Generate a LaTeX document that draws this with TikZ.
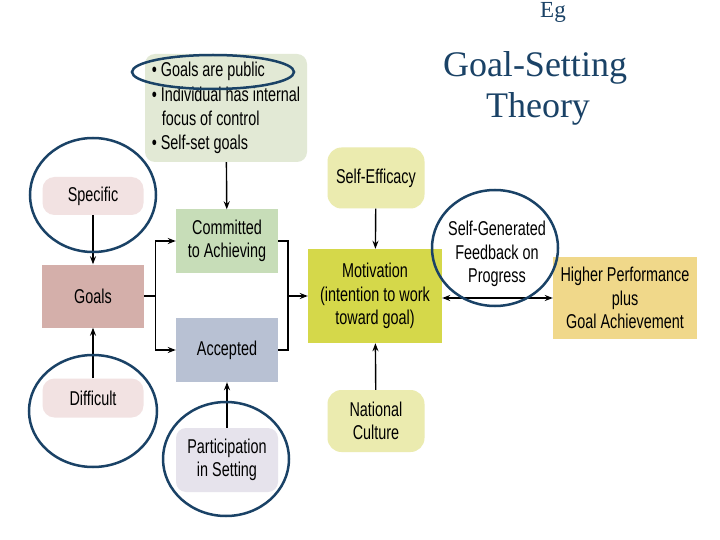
\documentclass[tikz,border=0pt]{standalone}
\usepackage{fontspec}
\setmainfont{Liberation Sans}[FakeStretch=0.72]
\newfontfamily\titlefont{Liberation Serif}
\usetikzlibrary{arrows.meta}

\definecolor{sage}{HTML}{E2E9D5}
\definecolor{blush}{HTML}{F2E2E2}
\definecolor{rose}{HTML}{D4AFAA}
\definecolor{mint}{HTML}{C7DDB8}
\definecolor{slate}{HTML}{B8C1D3}
\definecolor{lilac}{HTML}{E6E3EC}
\definecolor{cream}{HTML}{EBEBAF}
\definecolor{olive}{HTML}{D5D84A}
\definecolor{gold}{HTML}{F0D88A}
\definecolor{ink}{HTML}{1A4266}

\begin{document}
\begin{tikzpicture}[x=1pt,y=-1pt,
    box/.style={inner sep=0pt,align=center,font=\fontsize{20}{23.5}\selectfont},
    arr/.style={line width=1.4pt,-{Stealth[length=8pt,width=6pt]}},
    ring/.style={draw=ink,line width=2.5pt}]
    \useasboundingbox[fill=white] (0,0) rectangle (720,540);

    % title
    \node[anchor=base,text=ink,font=\titlefont\fontsize{23}{26}\selectfont] (eg) at (553,18) {Eg};
    \node[anchor=base,text=ink,font=\titlefont\fontsize{36}{41}\selectfont] (title) at (535,77) {Goal-Setting};
    \node[anchor=base,text=ink,font=\titlefont\fontsize{36}{41}\selectfont] (theory) at (538,118) {Theory};

    % boxes
    \node[box,fill=sage,rounded corners=10pt,minimum width=162pt,minimum height=108pt,
          align=left,font=\fontsize{20}{24.3}\selectfont] (cond) at (226,108)
          {\textbullet\ Goals are public\\\textbullet\ Individual has internal\\\hspace*{10pt}focus of control\\\textbullet\ Self-set goals};
    \node[box,fill=blush,rounded corners=12pt,minimum width=101pt,minimum height=38pt] (spec) at (93,196) {Specific};
    \node[box,fill=rose,minimum width=102pt,minimum height=63pt] (goals) at (93,296) {Goals};
    \node[box,fill=blush,rounded corners=12pt,minimum width=101pt,minimum height=39pt] (diff) at (93,398) {Difficult};
    \node[box,fill=mint,minimum width=102pt,minimum height=63pt] (comm) at (227,241) {Committed\\to Achieving};
    \node[box,fill=slate,minimum width=102pt,minimum height=64pt] (acc) at (227,350) {Accepted};
    \node[box,fill=lilac,rounded corners=10pt,minimum width=102pt,minimum height=64pt] (part) at (227,460) {Participation\\in Setting};
    \node[box,fill=cream,rounded corners=14pt,minimum width=97pt,minimum height=61pt] (selfe) at (376,178) {Self-Efficacy};
    \node[box,fill=olive,minimum width=134pt,minimum height=94pt] (mot) at (375,296) {Motivation\\(intention to work\\toward goal)};
    \node[box,fill=cream,rounded corners=14pt,minimum width=97pt,minimum height=62pt] (nat) at (376,421) {National\\Culture};
    \node[box,fill=gold,minimum width=144pt,minimum height=82pt] (high) at (625,298) {Higher Performance\\plus\\Goal Achievement};
    \node[box] (feed) at (497,254) {Self-Generated\\Feedback on\\Progress};

    % connectors
    \coordinate (bus) at (288,296);
    \draw[arr] (cond) -- (comm);
    \draw[arr] (spec) -- (goals);
    \draw[arr] (diff) -- (goals);
    \draw[arr] (part) -- (acc);
    \draw[arr] (goals.east) -- ++(11,0) |- (comm.west);
    \draw[arr] (goals.east) -- ++(11,0) |- (acc.west);
    \draw[line width=1.4pt] (comm.east) -| (bus);
    \draw[line width=1.4pt] (acc.east) -| (bus);
    \draw[arr] (bus) -- (bus -| mot.west);
    \draw[arr] (selfe) -- (mot);
    \draw[arr] (nat) -- (mot);
    \draw[arr,{Stealth[length=8pt,width=6pt]}-{Stealth[length=8pt,width=6pt]}] (mot.east |- high.west) -- (high.west);

    % highlights
    \draw[ring] (213,72) ellipse [x radius=81,y radius=17];
    \draw[ring] (93,195) ellipse [x radius=63,y radius=57];
    \draw[ring] (93,411) ellipse [x radius=64,y radius=56];
    \draw[ring] (226,459) ellipse [x radius=63,y radius=57];
    \draw[ring] (495,248) ellipse [x radius=63,y radius=58];
\end{tikzpicture}
\end{document}
